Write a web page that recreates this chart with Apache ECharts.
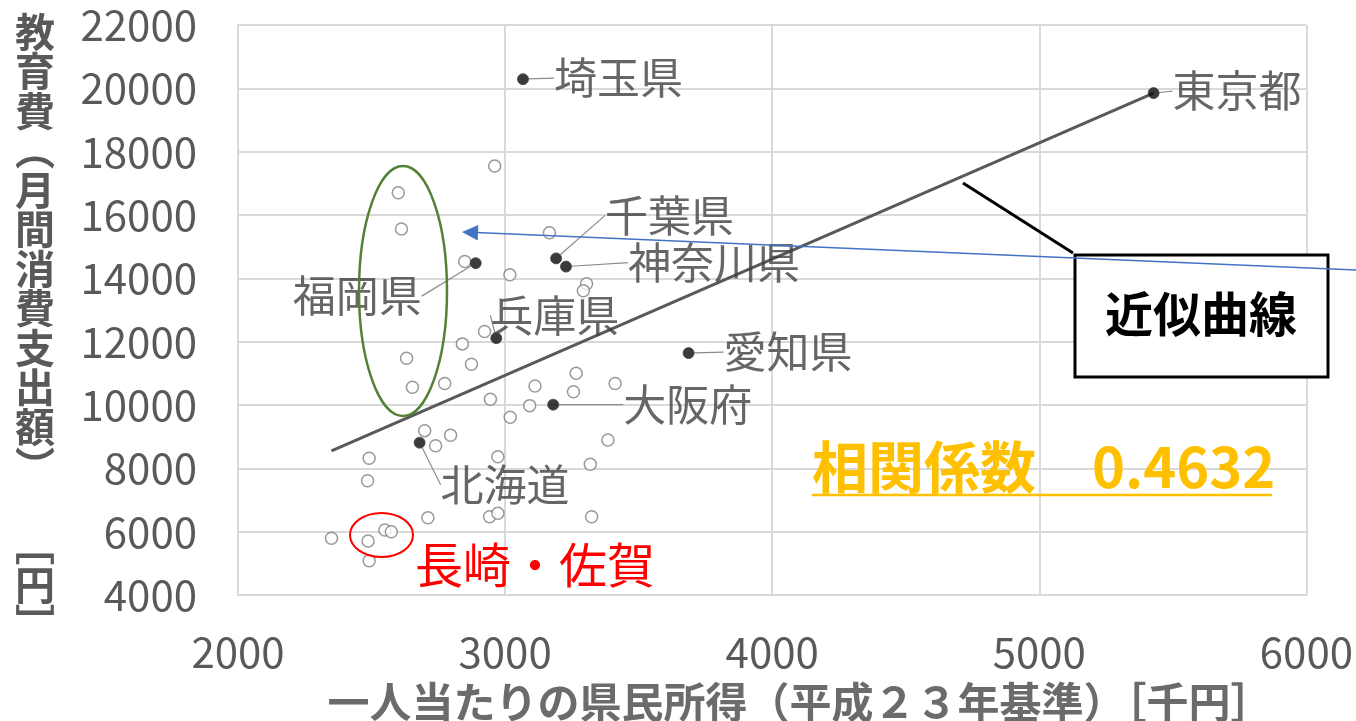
<!DOCTYPE html>
<html><head><meta charset="utf-8">
<script src="https://cdn.jsdelivr.net/npm/echarts@6/dist/echarts.min.js"></script>
<style>html,body{margin:0;padding:0;background:#fff}#c{width:1356px;height:721px}</style>
</head><body><div id="c"></div><script>
// ---- data ----
const openIncome = [2961,2600,2612,3166,2849,3018,3305,3293,2923,2840,2631,2874,3266,2774,3412,3112,2653,3256,2945,3092,3019,2699,2796,3385,2740,2973,2491,3319,2485,2711,2942,2973,3324,2350,2487,2550,2574,2491];
const openEducation = [17550,16700,15560,15440,14530,14110,13830,13610,12320,11930,11475,11285,11000,10680,10680,10600,10560,10420,10180,9980,9612,9190,9045,8895,8715,8368,8317,8130,7610,6440,6473,6580,6473,5791,5705,6053,6000,5083];
const namedPrefs = ['埼玉県','東京都','千葉県','神奈川県','福岡県','兵庫県','愛知県','大阪府','北海道'];
const namedIncome = [3067,5428,3191,3228,2890,2967,3687,3180,2680];
const namedEducation = [20290,19850,14630,14370,14480,12110,11640,10010,8810];
const trendIncome = [2350,5428];
const trendEducation = [8550,19845];
const xAxisRange = [2000,6000,1000];
const yAxisRange = [4000,22000,2000];
const xTitle = '一人当たりの県民所得（平成２３年基準）［千円］';
const yTitleChars = ['教','育','費','︵','月','間','消','費','支','出','額','︶','　','﹇','円','﹈'];
const correlationText = '相関係数　0.4632';
const calloutText = '近似曲線';
const noteText = '長崎・佐賀';

// ---- label placement (pixel offsets, kept apart from data) ----
const labelOffsets = [[20,-1],[8,-2],[38,-43],[51,-4],[-194,33],[-17,-23],[24,-1],[59,0],[10,42]];

const FONT = '"Noto Sans CJK JP", "Noto Sans", sans-serif';
const chart = echarts.init(document.getElementById('c'));

const zip = (a,b) => a.map((v,i)=>[v,b[i]]);
const plain = v => String(v);

chart.setOption({
  animation:false,
  backgroundColor:'#fff',
  grid:{left:238,right:48,top:25,bottom:126,containLabel:false},
  xAxis:{type:'value',min:xAxisRange[0],max:xAxisRange[1],interval:xAxisRange[2],
    axisLine:{show:true,lineStyle:{color:'#d9d9d9',width:2}},
    axisTick:{show:false},
    splitLine:{show:true,lineStyle:{color:'#d9d9d9',width:2}},
    axisLabel:{color:'#595959',fontSize:42,fontFamily:FONT,margin:36,formatter:plain}},
  yAxis:{type:'value',min:yAxisRange[0],max:yAxisRange[1],interval:yAxisRange[2],
    axisLine:{show:true,lineStyle:{color:'#d9d9d9',width:2}},
    axisTick:{show:false},
    splitLine:{show:true,lineStyle:{color:'#d9d9d9',width:2}},
    axisLabel:{color:'#595959',fontSize:42,fontFamily:FONT,margin:41,formatter:plain}},
  series:[
    {type:'scatter',name:'others',data:zip(openIncome,openEducation),symbol:'circle',symbolSize:12,
     itemStyle:{color:'#ffffff',borderColor:'#7f7f7f',borderWidth:1.5},silent:true,z:2},
    {type:'line',name:'trend',data:zip(trendIncome,trendEducation),showSymbol:false,symbol:'none',
     lineStyle:{color:'#595959',width:3},silent:true,z:3},
    {type:'scatter',name:'named',
     data:namedPrefs.map((n,i)=>({name:n,value:[namedIncome[i],namedEducation[i]]})),
     symbol:'circle',symbolSize:11,
     itemStyle:{color:'#0a0a0a',borderColor:'#444444',borderWidth:1},
     label:{show:true,position:'right',distance:5,formatter:'{b}',color:'#404040',fontSize:43,fontFamily:FONT},
     labelLine:{show:true,lineStyle:{color:'#8c8c8c',width:1.2}},
     labelLayout:function(p){const o=labelOffsets[p.dataIndex];return {dx:o[0],dy:o[1]};},
     silent:true,z:4}
  ],
  graphic:[
    {type:'text',x:35,y:12,z:50,style:{text:yTitleChars.join('\n'),fill:'#595959',fontSize:40,fontWeight:'bold',fontFamily:FONT,lineHeight:39.5,align:'center',verticalAlign:'top'}},
    {type:'text',x:800,y:702,z:50,style:{text:xTitle,fill:'#6b6b6b',fontSize:42,fontWeight:'bold',fontFamily:FONT,align:'center',verticalAlign:'middle'}},
    {type:'ellipse',z:60,shape:{cx:403,cy:291,rx:44,ry:125},style:{fill:'none',stroke:'#538135',lineWidth:2.5}},
    {type:'ellipse',z:60,shape:{cx:381.5,cy:535,rx:31.5,ry:22},style:{fill:'none',stroke:'#ff0000',lineWidth:2}},
    {type:'text',x:415,y:565,z:60,style:{text:noteText,fill:'#ff0000',fontSize:48,fontFamily:FONT,align:'left',verticalAlign:'middle'}},
    {type:'line',z:60,shape:{x1:963,y1:183,x2:1073,y2:253},style:{stroke:'#000',lineWidth:3}},
    {type:'rect',z:62,shape:{x:1075,y:255,width:253,height:122},style:{fill:'#fff',stroke:'#000',lineWidth:3}},
    {type:'text',x:1201,y:314,z:63,style:{text:calloutText,fill:'#000',fontSize:48,fontWeight:'bold',fontFamily:FONT,align:'center',verticalAlign:'middle'}},
    {type:'line',z:70,shape:{x1:1356,y1:270,x2:476,y2:232.6},style:{stroke:'#4472c4',lineWidth:1.5}},
    {type:'polygon',z:70,shape:{points:[[462,232],[478.3,225],[477.7,240.4]]},style:{fill:'#4472c4'}},
    {type:'text',x:812,y:467,z:60,style:{text:correlationText,fill:'#FFC000',fontSize:56,fontWeight:'bold',fontFamily:FONT,align:'left',verticalAlign:'middle'}},
    {type:'line',z:60,shape:{x1:812,y1:495,x2:1272,y2:495},style:{stroke:'#FFC000',lineWidth:2.5}}
  ]
});
</script></body></html>
